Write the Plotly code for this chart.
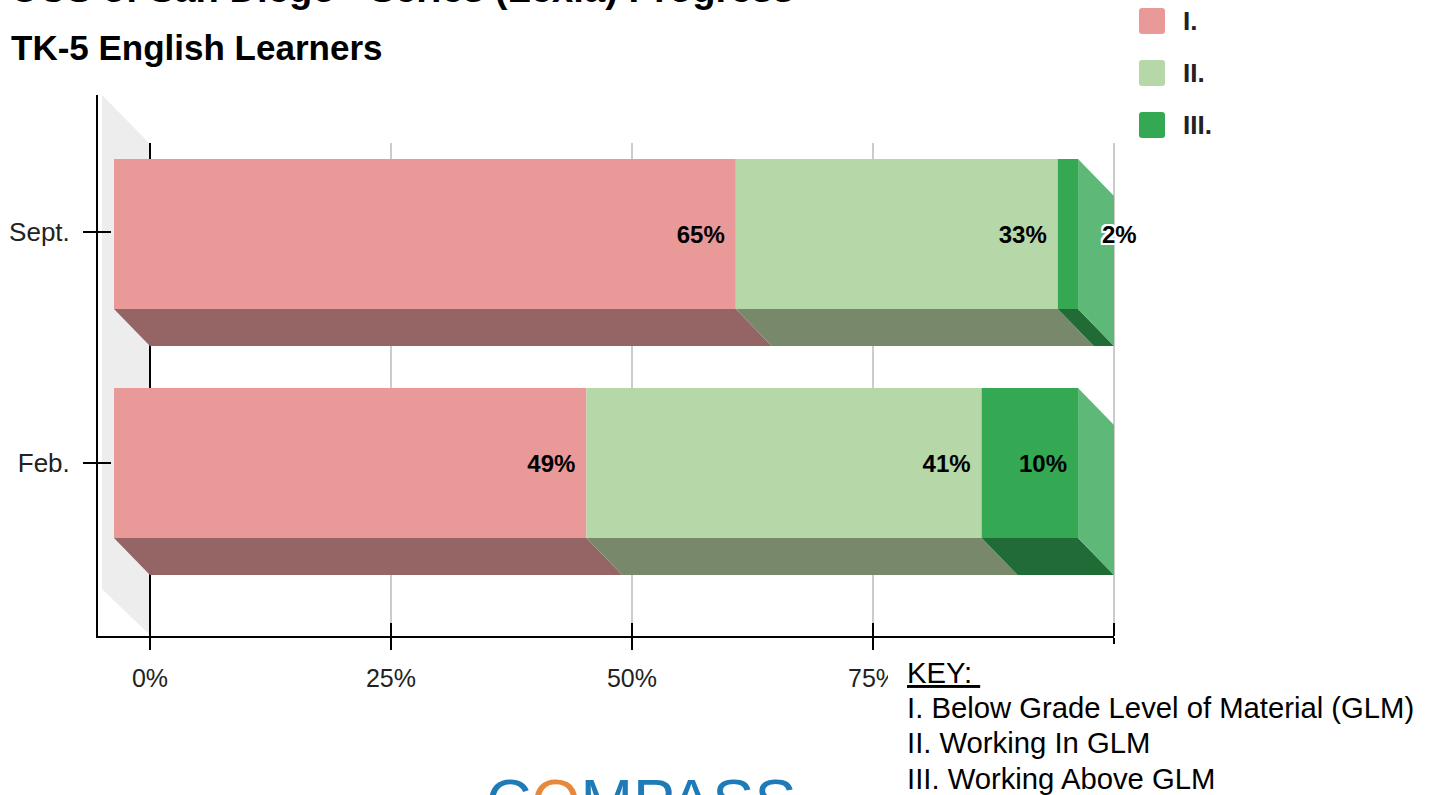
import plotly.graph_objects as go

W, H = 1429, 795
FONT = "Liberation Sans"

categories = ["Sept.", "Feb."]
rows = [1.0, 0.0]
row_ticks = [1.009, 0.0]
below_glm = [64.5, 49.0]
in_glm = [33.4, 41.0]
above_glm = [2.1, 10.0]
below_labels = ["65%", "49%"]
in_labels = ["33%", "41%"]
above_labels = ["2%", "10%"]
x_ticks = [0, 25, 50, 75, 100]
x_tick_labels = ["0%", "25%", "50%", "75%", "100%"]

legend_names = ["I.", "II.", "III."]
key_lines = [
    "<u>KEY: </u>",
    "I. Below Grade Level of Material (GLM)",
    "II. Working In GLM",
    "III. Working Above GLM",
]
front_colors = ["#EA9999", "#B6D7A8", "#34A853"]
floor_colors = ["#956464", "#78896B", "#216C36"]
side_color = "#5EB978"
wall_color = "#EDEDED"

# 3D look: the bars sit forward of the axes by this much, in axis units
depth_x = 3.73
depth_y = 0.1616
bar_h = 0.655
label_pad = 1.14
label_dy = -0.012
outside_label_x = 98.75

x_range = [-5.39, 100]
x_range_back = [-5.39, 100.21]  # a little wider, or plotly drops the grid line at 100
y_bottom = -0.7555
y_top_back = 1.397
y_top = 1.607


def px(x):
    return x / W


def py(y):
    return 1 - y / H


fig = go.Figure()

# left wall: lower part on the back plane, the corner above it has to go on the taller front plane
fig.add_trace(go.Scatter(
    x=[-4.98, -0.1, -0.1, -4.98, -4.98],
    y=[y_top_back, y_top_back, -0.747, -0.55, y_top_back],
    xaxis="x", yaxis="y", mode="lines", fill="toself",
    fillcolor=wall_color, line=dict(width=0), hoverinfo="skip", showlegend=False,
))
fig.add_trace(go.Scatter(
    x=[-4.98, -0.1, -4.98, -4.98],
    y=[y_top, y_top_back, y_top_back, y_top],
    xaxis="x2", yaxis="y2", mode="lines", fill="toself",
    fillcolor=wall_color, line=dict(width=0), hoverinfo="skip", showlegend=False,
))

series = [below_glm, in_glm, above_glm]
series_labels = [below_labels, in_labels, above_labels]
starts = [0.0 for _ in categories]

for s, values in enumerate(series):
    ends = [a + b for a, b in zip(starts, values)]
    for r, row in enumerate(rows):
        x0 = starts[r] - depth_x
        x1 = ends[r] - depth_x
        y_low = row - bar_h / 2
        # floor of the bar
        fig.add_trace(go.Scatter(
            x=[x0, x1, x1 + depth_x, x0 + depth_x, x0],
            y=[y_low, y_low, y_low - depth_y, y_low - depth_y, y_low],
            xaxis="x2", yaxis="y2", mode="lines", fill="toself",
            fillcolor=floor_colors[s], line=dict(width=0),
            hoverinfo="skip", showlegend=False,
        ))
        # right end of the stack
        if s == len(series) - 1:
            y_high = row + bar_h / 2
            fig.add_trace(go.Scatter(
                x=[x1, x1 + depth_x, x1 + depth_x, x1, x1],
                y=[y_high, y_high - depth_y, y_low - depth_y, y_low, y_high],
                xaxis="x2", yaxis="y2", mode="lines", fill="toself",
                fillcolor=side_color, line=dict(width=0),
                hoverinfo="skip", showlegend=False,
            ))
    fig.add_trace(go.Bar(
        y=rows,
        x=values,
        base=[b - depth_x for b in starts],
        orientation="h",
        width=bar_h,
        xaxis="x2", yaxis="y2",
        marker=dict(color=front_colors[s], line=dict(width=0)),
        name=legend_names[s],
        showlegend=False,
    ))
    label_x = [e - depth_x - label_pad for e in ends]
    positions = ["middle left", "middle left"]
    shadows = ["none", "none"]
    if s == len(series) - 1:
        # the 2% does not fit in its segment, so it sits past it with a halo
        label_x[0] = outside_label_x
        positions[0] = "middle right"
        shadows[0] = "2px 0 0 #fff, -2px 0 0 #fff, 0 2px 0 #fff, 0 -2px 0 #fff, 2px 2px 0 #fff, -2px -2px 0 #fff, 2px -2px 0 #fff, -2px 2px 0 #fff"
    for r, row in enumerate(rows):
        fig.add_trace(go.Scatter(
            x=[label_x[r]], y=[row + label_dy], text=[series_labels[s][r]],
            xaxis="x2", yaxis="y2", mode="text", textposition=positions[r],
            textfont=dict(family=FONT, size=24, color="#000000", weight="bold", shadow=shadows[r]),
            cliponaxis=False, hoverinfo="skip", showlegend=False,
        ))
    starts = ends

# rounded legend swatches
shapes = []
for i, c in enumerate(front_colors):
    x0, x1 = 1139, 1165
    y0, y1 = 8 + 52 * i, 34 + 52 * i
    k = 3
    path = (
        f"M{px(x0 + k)},{py(y0)} L{px(x1 - k)},{py(y0)} Q{px(x1)},{py(y0)} {px(x1)},{py(y0 + k)} "
        f"L{px(x1)},{py(y1 - k)} Q{px(x1)},{py(y1)} {px(x1 - k)},{py(y1)} "
        f"L{px(x0 + k)},{py(y1)} Q{px(x0)},{py(y1)} {px(x0)},{py(y1 - k)} "
        f"L{px(x0)},{py(y0 + k)} Q{px(x0)},{py(y0)} {px(x0 + k)},{py(y0)} Z"
    )
    shapes.append(dict(type="path", path=path, xref="paper", yref="paper",
                       fillcolor=c, line=dict(width=0), layer="above"))

# pasted key box covers the end of the axis labels
shapes.append(dict(type="rect", xref="paper", yref="paper", x0=px(888), x1=1, y0=0, y1=py(644),
                   fillcolor="#FFFFFF", line=dict(width=0), layer="above"))

annotations = []
for i, name in enumerate(legend_names):
    annotations.append(dict(
        text=f"<b>{name}</b>", xref="paper", yref="paper", x=px(1181), y=py(21 + 52 * i),
        xanchor="left", yanchor="middle", showarrow=False,
        font=dict(family=FONT, size=26, color="#222222"),
    ))

for i, line in enumerate(key_lines):
    annotations.append(dict(
        text=line, xref="paper", yref="paper", x=px(905), y=py(673 + 35.2 * i),
        xanchor="left", yanchor="middle", align="left", showarrow=False,
        font=dict(family=FONT, size=29.25, color="#000000"),
    ))

annotations += [
    dict(text="<b>UCS of San Diego - Series (Lexia) Progress</b>", xref="paper", yref="paper",
         x=px(9), y=py(-12), xanchor="left", yanchor="middle", showarrow=False,
         font=dict(family=FONT, size=38.2, color="#000000")),
    dict(text="<b>TK-5 English Learners</b>", xref="paper", yref="paper",
         x=px(9), y=py(48), xanchor="left", yanchor="middle", showarrow=False,
         font=dict(family=FONT, size=35, color="#000000")),
    dict(text='C<span style="color:#E8883A">O</span>MPASS', xref="paper", yref="paper",
         x=px(641), y=py(764), xanchor="center", yanchor="top", showarrow=False,
         font=dict(family=FONT, size=63, color="#1F7AB8")),
]

tick_font = dict(family=FONT, size=25, color="#222222")

fig.update_layout(
    width=W,
    height=H,
    margin=dict(l=0, r=0, t=0, b=0, autoexpand=False),
    paper_bgcolor="#FFFFFF",
    plot_bgcolor="rgba(0,0,0,0)",
    barmode="overlay",
    showlegend=False,
    shapes=shapes,
    annotations=annotations,
    # back plane: grid and the inner half of each tick
    xaxis=dict(
        domain=[px(98), px(1116)], anchor="y", range=x_range_back,
        tickmode="array", tickvals=x_ticks, showticklabels=False,
        ticks="inside", ticklen=13, tickwidth=2, tickcolor="#000000",
        showgrid=True, gridcolor="#CCCCCC", gridwidth=2,
        zeroline=True, zerolinecolor="#000000", zerolinewidth=2,
    ),
    yaxis=dict(
        domain=[py(636), py(143)], anchor="x", range=[y_bottom, y_top_back],
        tickmode="array", tickvals=row_ticks, showticklabels=False,
        ticks="inside", ticklen=13, tickwidth=2, tickcolor="#000000",
        showgrid=False, zeroline=False,
    ),
    # front plane: bars, axis lines, labels
    xaxis2=dict(
        domain=[px(98), px(1114)], anchor="y2", range=x_range,
        tickmode="array", tickvals=x_ticks, ticktext=x_tick_labels,
        ticks="outside", ticklen=12, tickwidth=2, tickcolor="#000000",
        tickfont=tick_font, ticklabelstandoff=7,
        showgrid=False, zeroline=False,
        showline=True, linecolor="#000000", linewidth=2,
    ),
    yaxis2=dict(
        domain=[py(636), py(95)], anchor="x2", range=[y_bottom, y_top],
        tickmode="array", tickvals=row_ticks, ticktext=categories,
        ticks="outside", ticklen=13, tickwidth=2, tickcolor="#000000",
        tickfont=dict(family=FONT, size=26, color="#222222"), ticklabelstandoff=8,
        showgrid=False, zeroline=False,
        showline=True, linecolor="#000000", linewidth=2,
    ),
)

fig.write_html("out.html", config=dict(displayModeBar=False),
               post_script="document.body.style.margin='0';document.body.style.overflow='hidden';")
